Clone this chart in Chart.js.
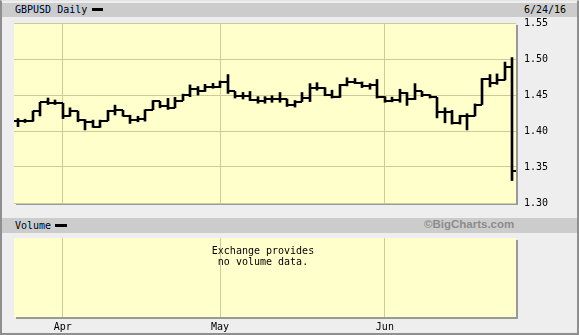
<!DOCTYPE html>
<html>
<head>
<meta charset="utf-8">
<script src="https://cdn.jsdelivr.net/npm/chart.js@4.4.1/dist/chart.umd.min.js"></script>
<style>
  body { margin: 0; background: #eeeeee; }
  #frame { position: relative; width: 579px; height: 335px; background: #eeeeee; overflow: hidden;
           font-family: "DejaVu Sans Mono", monospace; font-size: 10px; color: #000; }
  #edge { position: absolute; left: 0; top: 0; width: 579px; height: 335px; box-sizing: border-box;
          border: 2px solid #8f8f8f; border-top: 1px solid #e4e4e4; pointer-events: none; z-index: 5; }
  .band { position: absolute; left: 2px; width: 575px; background: #cccccc; }
  .band span { position: absolute; white-space: pre; }
  .key { position: absolute; background: #000; height: 3px; }
  canvas { position: absolute; left: 0; }
  #novol { position: absolute; left: 163px; top: 246px; width: 200px; text-align: center; line-height: 10.5px; z-index: 3; }
</style>
</head>
<body>
<div id="frame">
  <div class="band" style="top:3px;height:14px;">
    <span style="left:13px;top:1px;">GBPUSD Daily</span>
    <i class="key" style="left:90px;top:5px;width:11px;"></i>
    <span style="left:522px;top:1px;">6/24/16</span>
  </div>
  <canvas id="priceChart" width="579" height="217" style="top:0;"></canvas>
  <div class="band" style="top:218px;height:15px;">
    <span style="left:13px;top:2px;">Volume</span>
    <i class="key" style="left:53px;top:6px;width:12px;"></i>
    <span style="left:422px;top:0px;font:bold 11.5px 'Liberation Sans',Arial,sans-serif;color:#8c8c8c;">©BigCharts.com</span>
  </div>
  <canvas id="volChart" width="579" height="102" style="top:233px;"></canvas>
  <div id="novol">Exchange provides<br>no volume data.</div>
  <div id="edge"></div>
</div>
<script>
// GBPUSD daily, 24 Mar - 24 Jun 2016
var dates = [
    '3/24','3/25','3/28','3/29','3/30','3/31',
    '4/1','4/4','4/5','4/6','4/7','4/8','4/11','4/12','4/13','4/14','4/15','4/18','4/19','4/20','4/21','4/22','4/25','4/26','4/27','4/28','4/29',
    '5/2','5/3','5/4','5/5','5/6','5/9','5/10','5/11','5/12','5/13','5/16','5/17','5/18','5/19','5/20','5/23','5/24','5/25','5/26','5/27','5/30','5/31',
    '6/1','6/2','6/3','6/6','6/7','6/8','6/9','6/10','6/13','6/14','6/15','6/16','6/17','6/20','6/21','6/22','6/23','6/24'
];
var opens = [
    1.4141, 1.4141, 1.4135, 1.4277, 1.4399, 1.4392, 1.4386, 1.4205, 1.4277, 1.4159,
    1.4128, 1.4050, 1.4141, 1.4277, 1.4287, 1.4205, 1.4159, 1.4173, 1.4295, 1.4413,
    1.4341, 1.4322, 1.4423, 1.4504, 1.4580, 1.4549, 1.4617, 1.4610, 1.4681, 1.4549,
    1.4490, 1.4485, 1.4436, 1.4413, 1.4448, 1.4444, 1.4440, 1.4355, 1.4409, 1.4458,
    1.4603, 1.4598, 1.4504, 1.4477, 1.4640, 1.4685, 1.4671, 1.4626, 1.4640, 1.4477,
    1.4423, 1.4430, 1.4522, 1.4444, 1.4549, 1.4504, 1.4467, 1.4264, 1.4258, 1.4114,
    1.4209, 1.4215, 1.4368, 1.4716, 1.4671, 1.4708, 1.4885
];
var highs = [
    1.4173, 1.4164, 1.4277, 1.4399, 1.4458, 1.4431, 1.4386, 1.4322, 1.4277, 1.4159,
    1.4151, 1.4151, 1.4287, 1.4359, 1.4287, 1.4219, 1.4205, 1.4295, 1.4423, 1.4413,
    1.4454, 1.4467, 1.4512, 1.4640, 1.4617, 1.4648, 1.4662, 1.4694, 1.4784, 1.4549,
    1.4535, 1.4549, 1.4477, 1.4477, 1.4490, 1.4535, 1.4444, 1.4423, 1.4535, 1.4658,
    1.4671, 1.4603, 1.4567, 1.4648, 1.4739, 1.4730, 1.4681, 1.4658, 1.4716, 1.4477,
    1.4470, 1.4580, 1.4535, 1.4658, 1.4549, 1.4504, 1.4467, 1.4322, 1.4287, 1.4219,
    1.4241, 1.4376, 1.4730, 1.4784, 1.4793, 1.4957, 1.5020
];
var lows = [
    1.4060, 1.4118, 1.4135, 1.4209, 1.4368, 1.4368, 1.4173, 1.4205, 1.4128, 1.4015,
    1.4050, 1.4050, 1.4141, 1.4223, 1.4205, 1.4105, 1.4128, 1.4137, 1.4295, 1.4322,
    1.4300, 1.4322, 1.4423, 1.4477, 1.4499, 1.4549, 1.4594, 1.4603, 1.4522, 1.4458,
    1.4444, 1.4423, 1.4386, 1.4386, 1.4399, 1.4399, 1.4341, 1.4332, 1.4409, 1.4409,
    1.4567, 1.4490, 1.4458, 1.4467, 1.4626, 1.4658, 1.4603, 1.4580, 1.4458, 1.4399,
    1.4405, 1.4399, 1.4355, 1.4436, 1.4477, 1.4458, 1.4182, 1.4114, 1.4096, 1.4096,
    1.4015, 1.4209, 1.4368, 1.4613, 1.4648, 1.4708, 1.3312
];
var closes = [
    1.4141, 1.4135, 1.4277, 1.4399, 1.4392, 1.4386, 1.4205, 1.4277, 1.4159, 1.4128,
    1.4050, 1.4141, 1.4277, 1.4287, 1.4205, 1.4159, 1.4173, 1.4295, 1.4413, 1.4341,
    1.4322, 1.4423, 1.4504, 1.4580, 1.4549, 1.4617, 1.4610, 1.4681, 1.4549, 1.4490,
    1.4485, 1.4436, 1.4413, 1.4448, 1.4444, 1.4440, 1.4355, 1.4409, 1.4458, 1.4603,
    1.4598, 1.4504, 1.4477, 1.4640, 1.4685, 1.4671, 1.4626, 1.4640, 1.4477, 1.4423,
    1.4430, 1.4522, 1.4444, 1.4549, 1.4504, 1.4467, 1.4264, 1.4258, 1.4114, 1.4209,
    1.4215, 1.4368, 1.4716, 1.4671, 1.4708, 1.4885, 1.3448
];
var yTicks = [1.30, 1.35, 1.40, 1.45, 1.50, 1.55];
var monthStarts = [6, 27, 49];
var monthNames = ['Apr', 'May', 'Jun'];

var PLOT_BG = '#ffffcc';
var GRID = '#cccc99';
var SHADOW = '#999999';
var FONT = { family: 'DejaVu Sans Mono', size: 10 };

// жёлтая подложка с тенью справа и снизу
var panelBg = {
    id: 'panelBg',
    beforeDraw: function(chart) {
        var a = chart.chartArea, ctx = chart.ctx;
        ctx.save();
        ctx.fillStyle = SHADOW;
        ctx.fillRect(a.left + 2, a.top + 2, a.right - a.left, a.bottom - a.top);
        ctx.fillStyle = PLOT_BG;
        ctx.fillRect(a.left, a.top, a.right - a.left, a.bottom - a.top);
        ctx.restore();
    }
};

// столбики на целые пиксели, чтобы линии были чёткими
var snapBars = {
    id: 'snapBars',
    afterDatasetsUpdate: function(chart) {
        chart.getDatasetMeta(0).data.forEach(function(bar) {
            bar.x = Math.round(bar.x);
        });
    }
};

// засечки открытия (слева) и закрытия (справа)
var ohlcTicks = {
    id: 'ohlcTicks',
    afterDatasetsDraw: function(chart) {
        var meta = chart.getDatasetMeta(0), y = chart.scales.y, ctx = chart.ctx;
        ctx.save();
        ctx.strokeStyle = '#000';
        ctx.lineWidth = 2;
        meta.data.forEach(function(bar, i) {
            var x = bar.x;
            var yo = Math.round(y.getPixelForValue(opens[i]));
            var yc = Math.round(y.getPixelForValue(closes[i]));
            ctx.beginPath();
            ctx.moveTo(x - 4, yo); ctx.lineTo(x, yo);
            ctx.moveTo(x, yc); ctx.lineTo(x + 4, yc);
            ctx.stroke();
        });
        ctx.restore();
    }
};

function monthGrid(ctx) {
    return monthStarts.indexOf(ctx.index) >= 0 ? GRID : 'rgba(0,0,0,0)';
}

new Chart(document.getElementById('priceChart'), {
    type: 'bar',
    data: {
        labels: dates,
        datasets: [{
            data: dates.map(function(d, i) { return [lows[i], highs[i]]; }),
            backgroundColor: '#000',
            borderWidth: 0,
            barThickness: 2
        }]
    },
    options: {
        responsive: false,
        animation: false,
        devicePixelRatio: 1,
        layout: { padding: { left: 14, top: 23, right: 0, bottom: 9 } },
        plugins: { legend: { display: false }, tooltip: { enabled: false } },
        scales: {
            x: {
                offset: true,
                grid: { offset: false, drawTicks: false, color: monthGrid },
                border: { display: false },
                ticks: { display: false, autoSkip: false },
                afterFit: function(s) { s.height = 0; }
            },
            y: {
                position: 'right',
                min: 1.30,
                max: 1.55,
                afterBuildTicks: function(s) { s.ticks = yTicks.map(function(v) { return { value: v }; }); },
                grid: { color: GRID, drawTicks: false },
                border: { display: false },
                ticks: { padding: 8, color: '#000', font: FONT, callback: function(v) { return v.toFixed(2); } },
                afterFit: function(s) { s.width = 63; }
            }
        }
    },
    plugins: [panelBg, snapBars, ohlcTicks]
});

new Chart(document.getElementById('volChart'), {
    type: 'bar',
    data: { labels: dates, datasets: [{ data: [] }] },
    options: {
        responsive: false,
        animation: false,
        devicePixelRatio: 1,
        layout: { padding: { left: 14, top: 5, right: 63, bottom: 0 } },
        plugins: { legend: { display: false }, tooltip: { enabled: false } },
        scales: {
            x: {
                offset: true,
                grid: { offset: false, drawTicks: false, color: monthGrid },
                border: { display: false },
                ticks: {
                    autoSkip: false, maxRotation: 0, padding: 4, color: '#000', font: FONT,
                    callback: function(v, i) { var k = monthStarts.indexOf(i); return k >= 0 ? monthNames[k] : ''; }
                },
                afterFit: function(s) { s.height = 18; }
            },
            y: { display: false }
        }
    },
    plugins: [panelBg]
});
</script>
</body>
</html>
